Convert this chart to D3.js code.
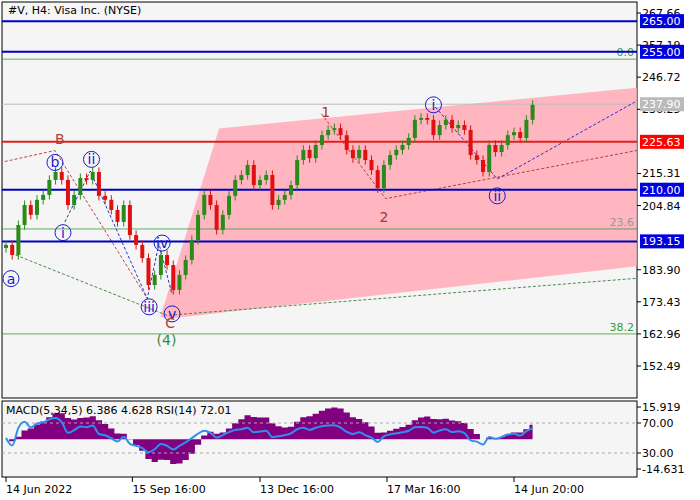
<!DOCTYPE html>
<html><head><meta charset="utf-8">
<script src="https://cdn.jsdelivr.net/npm/d3@7"></script>
<style>body{margin:0;background:#fff}svg{font-family:Tahoma,"DejaVu Sans",sans-serif}</style>
</head><body><svg id="c" width="700" height="500"></svg>
<script>
// H4 closes
const closes = [192.0,188.7,198.5,205.0,201.8,206.7,208.3,213.2,215.8,213.2,205.0,208.3,213.8,213.2,215.8,208.0,
  206.7,203.4,199.5,205.0,195.2,192.0,187.7,178.9,182.2,188.7,185.4,177.3,182.2,187.1,193.6,201.8,208.3,205.0,
  196.9,201.8,208.0,213.2,214.8,218.1,211.5,213.2,214.8,205.0,206.7,208.3,211.5,219.7,223.0,220.3,224.6,227.8,
  229.5,230.1,227.8,223.0,220.3,223.0,219.7,216.4,210.5,218.1,221.3,223.0,224.6,226.9,232.8,233.4,232.8,227.8,
  231.1,232.8,230.1,231.1,229.5,221.3,219.7,215.8,224.6,222.3,224.6,227.8,228.8,226.9,232.8,237.7];
const priceTicks = [267.66,257.19,246.72,236.25,215.31,204.84,183.90,173.43,162.96,152.49];
const timeLabels = ["14 Jun 2022","15 Sep 16:00","13 Dec 16:00","17 Mar 16:00","14 Jun 20:00"];
const timeIdx = [0,20.4,41,61.5,82];
const blueLevels = [265,255,210,193.15];
const redLevel = 225.63, lastLevel = 237.90;
const fibLevels = [["0.0",252.6],["23.6",197.2],["38.2",162.96]];
const channel = [[34.4,230.0],[101.8,243.3],[101.8,185.0],[26.5,168.0],[24.9,168.5]];
const dashed = [
  {c:"#a33",p:[[-0.2,219.2],[7.9,222.8],[22.8,174.5]]},
  {c:"#1a1acc",p:[[9.5,199.5],[13.6,216.1],[22.8,174.5],[24.7,192.4],[26.8,175.8]]},
  {c:"#3a7a3a",p:[[0.8,189.3],[26,169.0],[101.8,181.1]]},
  {c:"#a33",p:[[50.9,234.8],[61.3,207.1],[101.8,222.8]]},
  {c:"#1a1acc",p:[[69.3,237.0],[79.3,213.5],[101.5,238.6]]}
];
const labels = [
  {t:"B",i:8.7,v:226.5,c:"#b04030"},{t:"b",i:7.9,v:218.9,c:"#1a1acc",o:1},{t:"ii",i:13.8,v:219.9,c:"#1a1acc",o:1},
  {t:"i",i:9.2,v:196.0,c:"#1a1acc",o:1},{t:"iv",i:25.2,v:192.6,c:"#1a1acc",o:1},{t:"iii",i:23.1,v:171.8,c:"#1a1acc",o:1},
  {t:"v",i:26.8,v:169.5,c:"#1a1acc",o:1},{t:"C",i:26.5,v:166.5,c:"#b04030"},{t:"(4)",i:25.9,v:161.0,c:"#3a8a3a"},
  {t:"a",i:0.8,v:181.0,c:"#1a1acc",o:1},{t:"1",i:51.6,v:235.5,c:"#a33"},{t:"2",i:61,v:201.0,c:"#a33"},
  {t:"i",i:69,v:237.7,c:"#1a1acc",o:1},{t:"ii",i:79.3,v:208.0,c:"#1a1acc",o:1}
];

const svg = d3.select("#c");
const L = 2, R = 637, T = 2, B = 398;
const x = d3.scaleLinear().domain([0, 82]).range([6, 514]);
const y = d3.scaleLinear().domain([152.49, 267.66]).range([366, 13]);
const ym = d3.scaleLinear().domain([-14.631, 15.919]).range([469, 407]);
const yr = d3.scaleLinear().domain([30, 70]).range([453, 423]);

svg.append("rect").attr("x",L).attr("y",T).attr("width",R-L).attr("height",B-T).attr("fill","#f5f5f5").attr("stroke","#000");
svg.append("rect").attr("x",L).attr("y",401).attr("width",R-L).attr("height",76).attr("fill","#f5f5f5").attr("stroke","#000");
const defs = svg.append("defs");
defs.append("clipPath").attr("id","cl").append("rect").attr("x",L).attr("y",T).attr("width",R-L).attr("height",B-T);
defs.append("clipPath").attr("id","cl2").append("rect").attr("x",L).attr("y",401).attr("width",R-L).attr("height",76);
const g = svg.append("g").attr("clip-path","url(#cl)");
const line = d3.line().x(d=>x(d[0])).y(d=>y(d[1]));

g.append("path").attr("d", line(channel)+"Z").attr("fill","#ffb6c1");
fibLevels.forEach(f=>{
  g.append("line").attr("x1",L).attr("x2",R).attr("y1",y(f[1])).attr("y2",y(f[1])).attr("stroke","#3a9a3a").attr("stroke-width",0.8);
  g.append("text").attr("x",R-3).attr("y",y(f[1])-3).attr("text-anchor","end").attr("font-size",11)
    .attr("fill", f[0]==="23.6" ? "#999" : "#3a9a3a").text(f[0]);
});
g.append("line").attr("x1",L).attr("x2",R).attr("y1",y(lastLevel)).attr("y2",y(lastLevel)).attr("stroke","#bbb");
dashed.forEach(d=>g.append("path").attr("d",line(d.p)).attr("fill","none").attr("stroke",d.c).attr("stroke-dasharray","3,2").attr("stroke-width",0.9));
blueLevels.forEach(v=>g.append("line").attr("x1",L).attr("x2",R).attr("y1",y(v)).attr("y2",y(v)).attr("stroke","#0000c0").attr("stroke-width",2));
g.append("line").attr("x1",L).attr("x2",R).attr("y1",y(redLevel)).attr("y2",y(redLevel)).attr("stroke","#e0201c").attr("stroke-width",2);

// candles
closes.forEach((c,i)=>{
  const o = i ? closes[i-1] : c - 1;
  const up = c >= o, col = up ? "#2a8a1a" : "#e01010";
  g.append("line").attr("x1",x(i)).attr("x2",x(i)).attr("y1",y(Math.max(o,c)+1.5)).attr("y2",y(Math.min(o,c)-1.5)).attr("stroke",col);
  g.append("rect").attr("x",x(i)-2).attr("width",4).attr("y",y(Math.max(o,c))).attr("height",Math.max(1,y(Math.min(o,c))-y(Math.max(o,c)))).attr("fill",col);
});

labels.forEach(l=>{
  if (l.o) g.append("circle").attr("cx",x(l.i)).attr("cy",y(l.v)).attr("r",8).attr("fill","none").attr("stroke",l.c);
  g.append("text").attr("x",x(l.i)).attr("y",y(l.v)+5).attr("text-anchor","middle").attr("font-size",14).attr("fill",l.c).text(l.t);
});

svg.append("text").attr("x",8).attr("y",14).attr("font-size",11).text("#V, H4:  Visa Inc. (NYSE)");

// price axis
priceTicks.forEach(v=>{
  svg.append("line").attr("x1",R).attr("x2",R+4).attr("y1",y(v)).attr("y2",y(v)).attr("stroke","#000");
  svg.append("text").attr("x",R+5).attr("y",y(v)+4).attr("font-size",11).text(v.toFixed(2));
});
function tag(v, bg, fg){
  svg.append("rect").attr("x",R+3).attr("y",y(v)-7).attr("width",44).attr("height",14).attr("fill",bg);
  svg.append("text").attr("x",R+5).attr("y",y(v)+4).attr("font-size",11).attr("fill",fg).text(v.toFixed(2));
}
blueLevels.forEach(v=>tag(v,"#0000e0","#fff"));
tag(redLevel,"#f00","#fff");
tag(lastLevel,"#bbb","#fff");

// MACD(5,34,5) and RSI(14) from the closes
function ema(a,n){const k=2/(n+1);let e=a[0];return a.map(v=>e=e+k*(v-e));}
const e5 = ema(closes,5), e34 = ema(closes,34);
const macd = closes.map((_,i)=>e5[i]-e34[i]);
let ag=0.5, al=0.5;
const rsi = closes.map((c,i)=>{
  if(!i) return 50;
  const d=c-closes[i-1]; ag=(ag*13+Math.max(d,0))/14; al=(al*13+Math.max(-d,0))/14;
  return 100-100/(1+ag/al);
});
const sub = svg.append("g").attr("clip-path","url(#cl2)");
sub.append("path").attr("fill","#800080")
  .attr("d", d3.area().x((d,i)=>x(i)).y0(ym(0)).y1(d=>ym(d)).curve(d3.curveStep)(macd));
[70,30].forEach(v=>sub.append("line").attr("x1",L).attr("x2",R).attr("y1",yr(v)).attr("y2",yr(v)).attr("stroke","#aaa").attr("stroke-dasharray","3,3"));
sub.append("path").attr("fill","none").attr("stroke","#2f8fef").attr("stroke-width",2)
  .attr("d", d3.line().x((d,i)=>x(i)).y(d=>yr(d)).curve(d3.curveMonotoneX)(rsi));
sub.append("text").attr("x",6).attr("y",414).attr("font-size",11).text("MACD(5,34,5) 6.386 4.628 RSI(14) 72.01");
[[15.919,407],[70,423],[30,453],[-14.631,469]].forEach(t=>{
  svg.append("line").attr("x1",R).attr("x2",R+4).attr("y1",t[1]).attr("y2",t[1]).attr("stroke","#000");
  svg.append("text").attr("x",R+5).attr("y",t[1]+4).attr("font-size",11).text(t[0]===70||t[0]===30?t[0].toFixed(2):t[0].toFixed(3));
});

// time axis
timeIdx.forEach((t,i)=>{
  svg.append("line").attr("x1",x(t)).attr("x2",x(t)).attr("y1",477).attr("y2",482).attr("stroke","#000");
  svg.append("text").attr("x",x(t)).attr("y",493).attr("font-size",11).text(timeLabels[i]);
});
</script></body></html>
